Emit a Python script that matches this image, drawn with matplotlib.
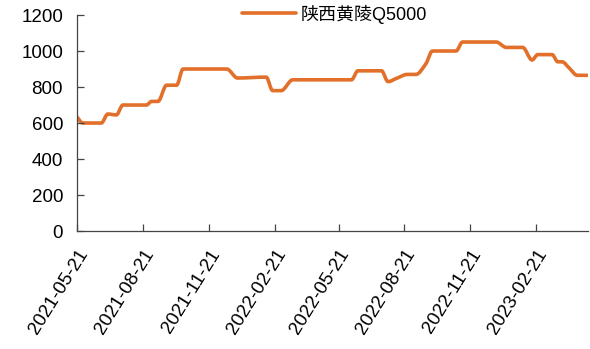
import matplotlib
matplotlib.use("Agg")
import matplotlib.pyplot as plt
import matplotlib.dates as mdates
from matplotlib.path import Path
from matplotlib.patches import PathPatch
from matplotlib.lines import Line2D
import numpy as np
import pandas as pd

plt.rcParams['font.family'] = ['Liberation Sans', 'Noto Sans CJK SC', 'DejaVu Sans']

# ==========================================
# data
# ==========================================
series_name = "陕西黄陵Q5000"
dates = [
    "2021-05-21", "2021-05-29", "2021-06-24", "2021-07-03", "2021-07-15",
    "2021-07-24", "2021-08-26", "2021-09-02", "2021-09-11", "2021-09-23",
    "2021-10-07", "2021-10-16", "2021-12-16", "2021-12-31", "2022-02-09",
    "2022-02-18", "2022-03-02", "2022-03-18", "2022-06-08", "2022-06-17",
    "2022-07-20", "2022-07-29", "2022-08-11", "2022-08-25", "2022-09-06",
    "2022-09-20", "2022-09-29", "2022-11-01", "2022-11-10", "2022-12-27",
    "2023-01-10", "2023-02-02", "2023-02-15", "2023-02-23", "2023-03-15",
    "2023-03-23", "2023-03-29", "2023-04-08", "2023-04-19", "2023-05-03",
]
prices = [
    633, 600, 600, 650, 645,
    700, 700, 720, 720, 810,
    810, 900, 900, 850, 855,
    780, 780, 840, 840, 890,
    890, 830, 850, 870, 870,
    930, 1000, 1000, 1050, 1050,
    1020, 1020, 950, 980, 980,
    940, 940, 905, 865, 865,
]
tick_dates = ["2021-05-21", "2021-08-21", "2021-11-21", "2022-02-21",
              "2022-05-21", "2022-08-21", "2022-11-21", "2023-02-21"]
y_ticks = [0, 200, 400, 600, 800, 1000, 1200]

x = pd.to_datetime(dates)
ticks = pd.to_datetime(tick_dates)
line_color = "#E2702A"

# ==========================================
# smoothed line: monotone cubic bezier through the points (no overshoot)
# ==========================================
def smooth_path(xs, ys):
    dx = np.diff(xs)
    sec = np.diff(ys) / dx
    m = np.zeros(len(xs))
    m[0], m[-1] = sec[0], sec[-1]
    for i in range(1, len(xs) - 1):
        if sec[i - 1] * sec[i] > 0:
            m[i] = 2.0 / (1.0 / sec[i - 1] + 1.0 / sec[i])
    verts = [(xs[0], ys[0])]
    codes = [Path.MOVETO]
    for i in range(len(xs) - 1):
        h = dx[i] / 3.0
        verts += [(xs[i] + h, ys[i] + m[i] * h),
                  (xs[i + 1] - h, ys[i + 1] - m[i + 1] * h),
                  (xs[i + 1], ys[i + 1])]
        codes += [Path.CURVE4] * 3
    return Path(verts, codes)

# ==========================================
# plot
# ==========================================
fig = plt.figure(figsize=(5.9, 3.49), dpi=100)
ax = fig.add_axes([0.1305, 0.338, 0.866, 0.619])

ax.xaxis_date()
path = smooth_path(mdates.date2num(x), np.asarray(prices, dtype=float))
ax.add_patch(PathPatch(path, facecolor="none", edgecolor=line_color,
                       linewidth=2.6, joinstyle="round", capstyle="round"))

ax.set_ylim(0, 1200)
ax.set_yticks(y_ticks)
ax.set_xlim(x[0], x[-1] + pd.Timedelta(days=1))
ax.set_xticks(ticks)
ax.xaxis.set_major_formatter(mdates.DateFormatter("%Y-%m-%d"))

for side in ["top", "right"]:
    ax.spines[side].set_visible(False)
for side in ["left", "bottom"]:
    ax.spines[side].set_color("#444444")
    ax.spines[side].set_linewidth(0.9)

ax.tick_params(axis="both", direction="in", length=5, width=0.9,
               color="#444444", labelsize=13.5)
ax.tick_params(axis="x", pad=11)
ax.tick_params(axis="y", pad=10)
plt.setp(ax.get_xticklabels(), rotation=58, ha="right", rotation_mode="anchor")

handle = Line2D([], [], color=line_color, linewidth=2.6, solid_capstyle="round")
fig.legend([handle], [series_name], loc="center", bbox_to_anchor=(0.567, 0.96),
           frameon=False, fontsize=13, handlelength=3.0, handletextpad=0.3,
           borderaxespad=0, borderpad=0)

fig.savefig("out.png", dpi=100)
